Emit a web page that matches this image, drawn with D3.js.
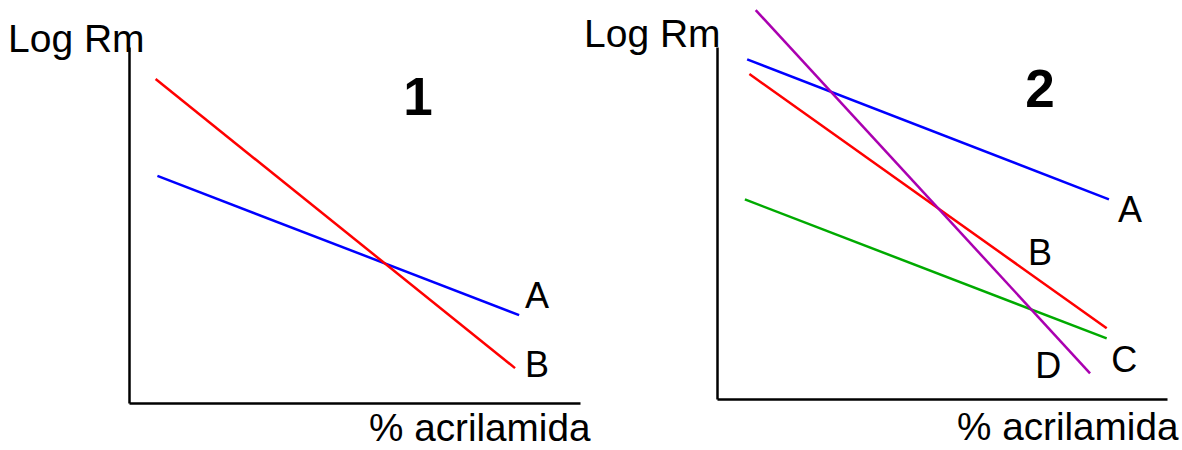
<!DOCTYPE html>
<html>
<head>
<meta charset="utf-8">
<script src="https://cdn.jsdelivr.net/npm/d3@7"></script>
<style>
  html, body { margin: 0; padding: 0; background: #fff; }
  svg { display: block; font-family: "Liberation Sans", Arial, sans-serif; }
</style>
</head>
<body>
<svg id="chart" width="1182" height="450"></svg>
<script>
// Panel 1: two series, start/end of each straight line (x = % acrilamida, y = Log Rm)
const panel1Series = ["A", "B"];
const panel1Colors = ["#0000ff", "#ff0000"];
const panel1X = [[0.63, 8.65], [0.59, 8.56]];
const panel1Y = [[6.38, 2.47], [9.10, 0.98]];
const panel1LabelX = [8.78, 8.78];
const panel1LabelY = [2.67, 0.73];

// Panel 2: four series
const panel2Series = ["A", "B", "C", "D"];
const panel2Colors = ["#0000ff", "#ff0000", "#00aa00", "#aa00b0"];
const panel2X = [[0.67, 8.71], [0.72, 8.66], [0.62, 8.66], [0.86, 8.29]];
const panel2Y = [[9.65, 5.67], [9.23, 2.01], [5.67, 1.72], [11.05, 0.73]];
const panel2LabelX = [8.91, 6.91, 8.76, 7.07];
const panel2LabelY = [5.03, 3.81, 0.77, 0.60];

const svg = d3.select("#chart");

function drawPanel(cfg) {
  const x = d3.scaleLinear().domain([0, 10]).range([cfg.left, cfg.right]);
  const y = d3.scaleLinear().domain([0, 10]).range([cfg.bottom, cfg.top]);
  const g = svg.append("g");

  // axes: plain L-shaped frame without ticks
  g.append("g")
    .attr("transform", `translate(0,${cfg.bottom})`)
    .call(d3.axisBottom(x).tickValues([]).tickSizeOuter(0))
    .call(s => s.select(".domain").attr("stroke", "#000").attr("stroke-width", 2.5));
  g.append("g")
    .attr("transform", `translate(${cfg.left},0)`)
    .call(d3.axisLeft(y).tickValues([]).tickSizeOuter(0))
    .call(s => s.select(".domain").attr("stroke", "#000").attr("stroke-width", 2.5));

  const line = d3.line().x(d => x(d[0])).y(d => y(d[1]));
  cfg.series.forEach((name, i) => {
    const pts = cfg.xs[i].map((v, k) => [v, cfg.ys[i][k]]);
    g.append("path")
      .datum(pts)
      .attr("d", line)
      .attr("fill", "none")
      .attr("stroke", cfg.colors[i])
      .attr("stroke-width", 2.5);
    g.append("text")
      .attr("x", x(cfg.labelX[i]))
      .attr("y", y(cfg.labelY[i]))
      .attr("font-size", 36)
      .attr("fill", "#000")
      .text(name);
  });

  g.append("text")
    .attr("x", cfg.yTitleX).attr("y", cfg.yTitleY)
    .attr("font-size", 39).attr("fill", "#000")
    .text("Log Rm");
  g.append("text")
    .attr("x", cfg.xTitleX).attr("y", cfg.xTitleY)
    .attr("font-size", 38.7).attr("fill", "#000")
    .text("% acrilamida");
  g.append("text")
    .attr("x", cfg.numX).attr("y", cfg.numY)
    .attr("text-anchor", "middle")
    .attr("font-size", 53).attr("font-weight", "bold").attr("fill", "#000")
    .text(cfg.num);
}

drawPanel({
  left: 129, right: 580, top: 47, bottom: 403,
  series: panel1Series, colors: panel1Colors,
  xs: panel1X, ys: panel1Y, labelX: panel1LabelX, labelY: panel1LabelY,
  yTitleX: 8, yTitleY: 52, xTitleX: 369, xTitleY: 441,
  num: "1", numX: 418, numY: 115
});

drawPanel({
  left: 717, right: 1167, top: 47, bottom: 399,
  series: panel2Series, colors: panel2Colors,
  xs: panel2X, ys: panel2Y, labelX: panel2LabelX, labelY: panel2LabelY,
  yTitleX: 584, yTitleY: 47, xTitleX: 957, xTitleY: 440,
  num: "2", numX: 1040, numY: 107
});
</script>
</body>
</html>
